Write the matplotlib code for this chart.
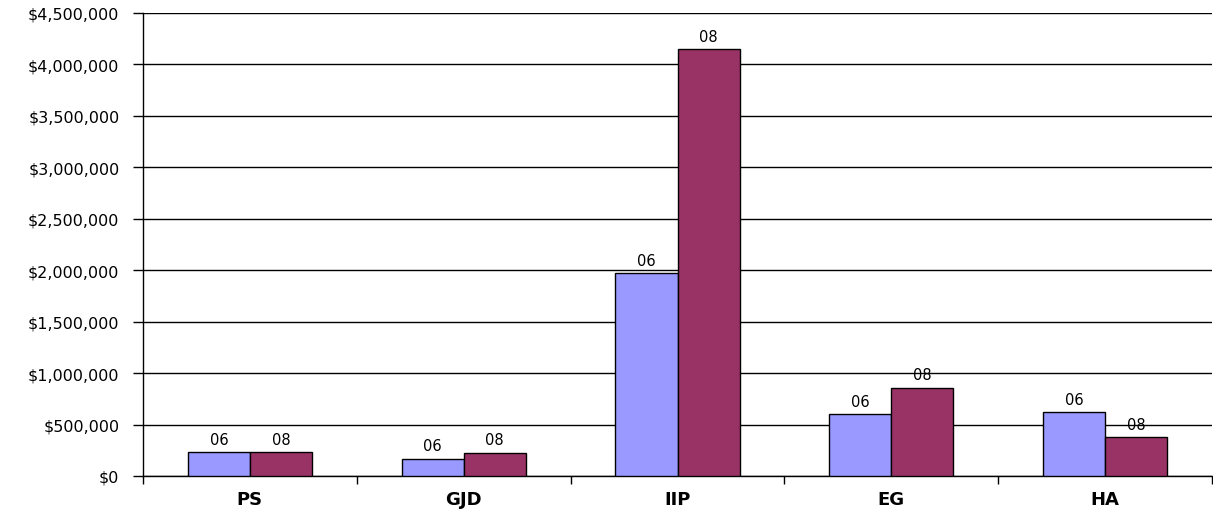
import numpy as np
import matplotlib.pyplot as plt
from matplotlib.ticker import FuncFormatter

categories = ['PS', 'GJD', 'IIP', 'EG', 'HA']
series_names = ['06', '08']
values_06 = [230000, 165000, 1970000, 600000, 618000]
values_08 = [230000, 225000, 4146000, 857000, 375000]
colors = ['#9999FF', '#993366']

# the original text is set quite wide, DejaVu gets closest
plt.rcParams['font.family'] = ['DejaVu Sans']

fig = plt.figure(figsize=(12.13, 5.10), dpi=100)
ax = fig.add_axes([143/1213, 1 - 477/510, (1212-143)/1213, (477-14)/510])

x = np.arange(len(categories))
w = 0.29
for k, (vals, name) in enumerate(zip([values_06, values_08], series_names)):
    pos = x + (k - 0.5) * w
    ax.bar(pos, vals, width=w, color=colors[k], edgecolor='black', linewidth=1, zorder=3)
    for p, v in zip(pos, vals):
        ax.annotate(name, (p, v), xytext=(0, 4), textcoords='offset points',
                    ha='center', va='bottom', fontsize=10.5, zorder=4)

ax.set_xlim(-0.5, len(categories) - 0.5)
ax.set_ylim(0, 4500000)
ax.set_yticks(np.arange(0, 4500001, 500000))
ax.yaxis.set_major_formatter(FuncFormatter(lambda v, p: '${:,.0f}'.format(v)))
ax.grid(axis='y', color='black', linewidth=1, zorder=0)

ax.set_xticks(x)
ax.set_xticklabels(categories, fontsize=13, fontweight='bold')
ax.set_xticks(np.arange(-0.5, len(categories), 1), minor=True)
ax.tick_params(axis='x', which='major', length=0, pad=10)
ax.tick_params(axis='x', which='minor', length=6, width=1, direction='out', color='black')
ax.tick_params(axis='y', length=7, width=1, color='black', labelsize=11.5, pad=10)

for s in ['top', 'right']:
    ax.spines[s].set_visible(False)
for s in ['left', 'bottom']:
    ax.spines[s].set_linewidth(1)
    ax.spines[s].set_color('black')

fig.savefig('out.png', dpi=100)
